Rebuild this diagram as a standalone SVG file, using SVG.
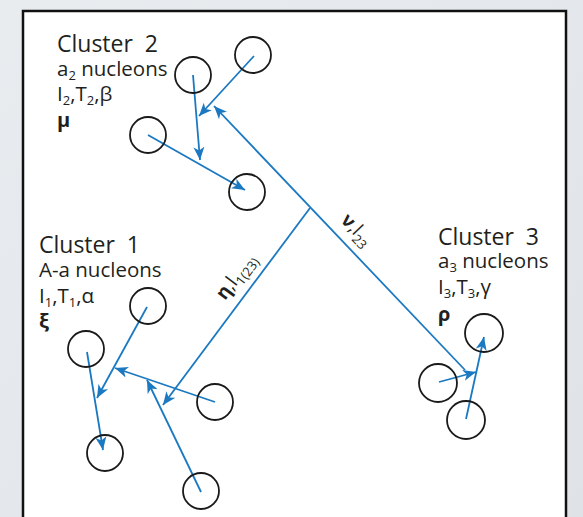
<svg xmlns="http://www.w3.org/2000/svg" width="583" height="517" viewBox="0 0 583 517">
  <defs>
    <linearGradient id="bg" x1="0" y1="0" x2="1" y2="1">
      <stop offset="0" stop-color="#e9ecef"/>
      <stop offset="1" stop-color="#dfe3e8"/>
    </linearGradient>
    <marker id="head" markerUnits="userSpaceOnUse" markerWidth="14" markerHeight="12" viewBox="0 0 14 12" refX="13" refY="6" orient="auto">
      <path d="M0,0.5 L13,6 L0,11.5 L3.5,6 z" fill="#1b79c2"/>
    </marker>
  </defs>
  <style>
    .nuc { fill: none; stroke: #1a1a1a; stroke-width: 1.8; }
    .arr { stroke: #1b79c2; stroke-width: 1.8; fill: none; }
    .arr.tip { marker-end: url(#head); }
    .hd { font-family: "Open Sans", "Liberation Sans", sans-serif; font-size: 23px; fill: #231f20; word-spacing: 6px; }
    .tx { font-family: "Open Sans", "Liberation Sans", sans-serif; font-size: 20.5px; fill: #231f20; }
    .sy { font-family: "Open Sans", "Liberation Sans", sans-serif; font-size: 20px; font-weight: bold; fill: #231f20; }
    .lb { font-family: "Open Sans", "Liberation Sans", sans-serif; font-size: 19px; fill: #231f20; }
    .sub { font-size: 13px; }
  </style>

  <rect x="0" y="0" width="583" height="517" fill="url(#bg)"/>
  <rect x="23" y="11" width="543" height="520" fill="#ffffff" stroke="#111111" stroke-width="2.5"/>

  <!-- connectors: relative coordinates between the clusters and between nucleons -->
  <g id="connectors">
    <line class="arr tip" x1="193" y1="75" x2="200" y2="160"/>
    <line class="arr tip" x1="254" y1="56" x2="199" y2="116"/>
    <line class="arr tip" x1="148" y1="135" x2="245" y2="190"/>
    <line class="arr tip" x1="465" y1="370" x2="214" y2="106"/>
    <line class="arr tip" x1="310" y1="208" x2="163" y2="405"/>
    <line class="arr tip" x1="147" y1="307" x2="97" y2="398"/>
    <line class="arr tip" x1="87" y1="352" x2="103" y2="450"/>
    <line class="arr tip" x1="215" y1="402" x2="115" y2="368"/>
    <line class="arr tip" x1="201" y1="492" x2="147" y2="380"/>
    <line class="arr tip" x1="439" y1="382" x2="476" y2="372"/>
    <line class="arr tip" x1="466" y1="419" x2="484" y2="337"/>
    <text class="lb" transform="translate(340,221) rotate(46.3)"><tspan font-weight="bold">ν</tspan>,l<tspan class="sub" dy="5">23</tspan></text>
    <text class="lb" transform="translate(225,301) rotate(-53.3)"><tspan font-weight="bold">η</tspan>,l<tspan class="sub" dy="5">1(23)</tspan></text>
  </g>

  <!-- cluster 2 -->
  <g id="cluster2">
    <text class="hd" x="57" y="52">Cluster 2</text>
    <text class="tx" x="57" y="76">a<tspan class="sub" dy="4">2</tspan><tspan dy="-4"> nucleons</tspan></text>
    <text class="tx" x="57" y="101">I<tspan class="sub" dy="4">2</tspan><tspan dy="-4">,T</tspan><tspan class="sub" dy="4">2</tspan><tspan dy="-4">,β</tspan></text>
    <text class="sy" x="57" y="127">μ</text>
    <circle class="nuc" cx="193" cy="75" r="18"/>
    <circle class="nuc" cx="253" cy="55" r="18"/>
    <circle class="nuc" cx="148" cy="135" r="18"/>
    <circle class="nuc" cx="247" cy="192" r="18"/>
  </g>

  <!-- cluster 1 -->
  <g id="cluster1">
    <text class="hd" x="39" y="253">Cluster 1</text>
    <text class="tx" x="39" y="277">A-a nucleons</text>
    <text class="tx" x="39" y="303">I<tspan class="sub" dy="4">1</tspan><tspan dy="-4">,T</tspan><tspan class="sub" dy="4">1</tspan><tspan dy="-4">,α</tspan></text>
    <text class="sy" x="39" y="328">ξ</text>
    <circle class="nuc" cx="148" cy="306" r="18"/>
    <circle class="nuc" cx="86" cy="349" r="18"/>
    <circle class="nuc" cx="215" cy="402" r="18"/>
    <circle class="nuc" cx="105" cy="453" r="18"/>
    <circle class="nuc" cx="201" cy="491" r="18"/>
  </g>

  <!-- cluster 3 -->
  <g id="cluster3">
    <text class="hd" x="438" y="245">Cluster 3</text>
    <text class="tx" x="438" y="268">a<tspan class="sub" dy="4">3</tspan><tspan dy="-4"> nucleons</tspan></text>
    <text class="tx" x="438" y="294">I<tspan class="sub" dy="4">3</tspan><tspan dy="-4">,T</tspan><tspan class="sub" dy="4">3</tspan><tspan dy="-4">,γ</tspan></text>
    <text class="sy" x="438" y="321">ρ</text>
    <circle class="nuc" cx="484" cy="333" r="19"/>
    <circle class="nuc" cx="438" cy="383" r="19"/>
    <circle class="nuc" cx="466" cy="420" r="19"/>
  </g>
</svg>
